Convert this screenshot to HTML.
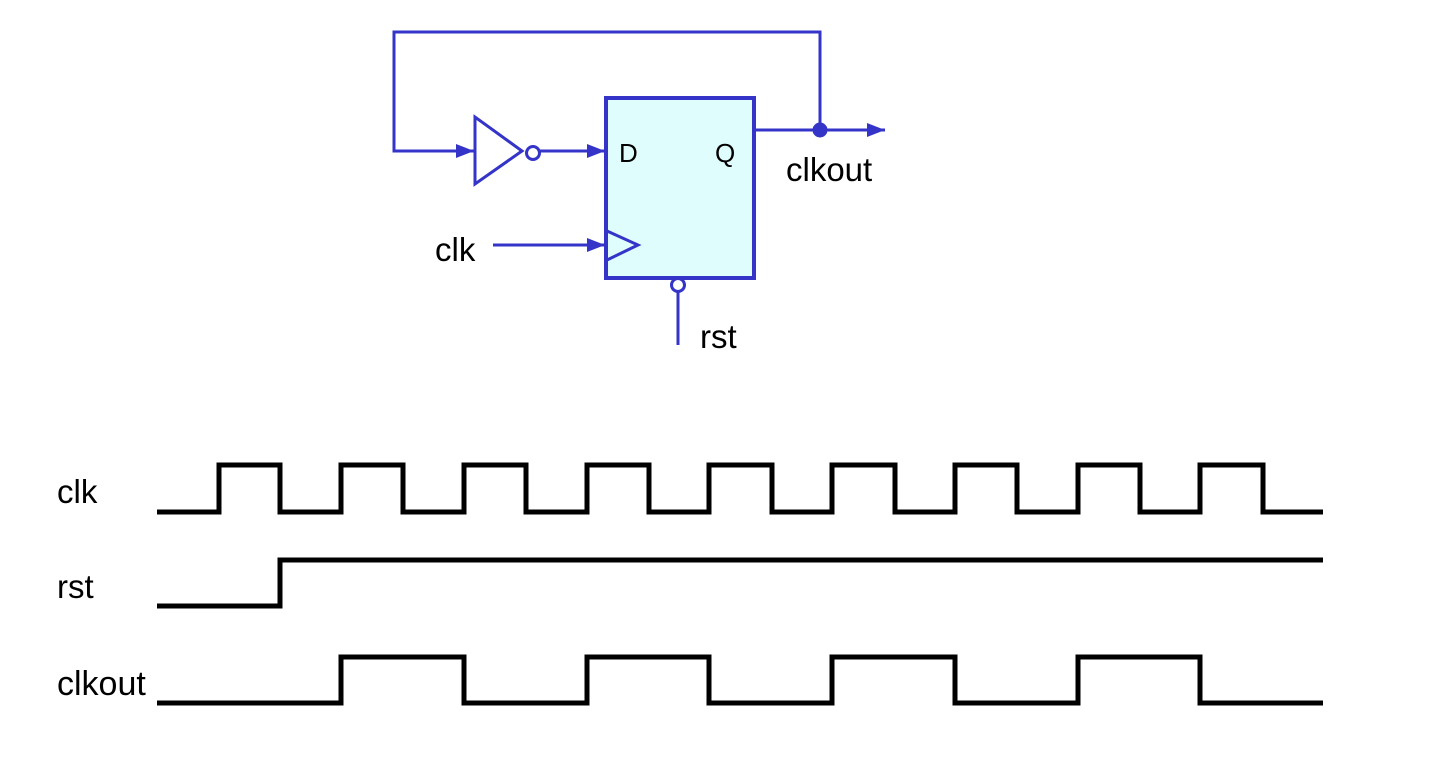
<!DOCTYPE html>
<html><head><style>body{margin:0;background:#fff}svg{display:block}</style></head><body>
<svg width="1440" height="764" viewBox="0 0 1440 764" xmlns="http://www.w3.org/2000/svg" font-family="Liberation Sans, sans-serif">
<defs>
<marker id="b" viewBox="0 0 18 14" markerWidth="18" markerHeight="14" refX="18" refY="7" orient="auto" markerUnits="userSpaceOnUse"><path d="M0,0 L18,7 L0,14z" fill="#3434c8"/></marker></defs>
<g stroke="#3434c8" stroke-width="3" fill="none">
<rect x="606" y="98" width="148" height="180" fill="#e0fdfd" stroke-width="4"/>
<polyline points="820,130 820,32 394,32 394,151 474,151" marker-end="url(#b)"/>
<polygon points="475,117 475,184 522,151"/>
<circle cx="533" cy="153" r="6.5"/>
<line x1="540" y1="151" x2="605" y2="151" marker-end="url(#b)"/>
<line x1="754" y1="130" x2="885" y2="130" marker-end="url(#b)"/>
<line x1="493" y1="245" x2="605" y2="245" marker-end="url(#b)"/>
<polyline points="607,231 638,245 607,260"/>
<circle cx="678" cy="285" r="6.5"/>
<line x1="678" y1="292" x2="678" y2="345"/>
</g>
<circle cx="820" cy="130" r="7.5" fill="#3434c8"/>
<g font-size="26" fill="#000"><text x="619" y="162">D</text><text x="715" y="162">Q</text></g>
<g font-size="33" fill="#000"><text x="786" y="181">clkout</text><text x="435" y="261">clk</text><text x="700" y="348">rst</text>
<text x="57" y="503">clk</text><text x="57" y="598">rst</text><text x="57" y="695" font-size="34">clkout</text></g>
<g stroke="#000" stroke-width="5" fill="none">
<polyline points="157,512 219,512 219,465 280,465 280,512 341,512 341,465 403,465 403,512 464,512 464,465 526,465 526,512 587,512 587,465 649,465 649,512 709,512 709,465 772,465 772,512 832,512 832,465 895,465 895,512 955,512 955,465 1017,465 1017,512 1078,512 1078,465 1140,465 1140,512 1200,512 1200,465 1263,465 1263,512 1323,512"/>
<polyline points="157,606 280,606 280,560 1323,560"/>
<polyline points="157,703 341,703 341,657 464,657 464,703 587,703 587,657 709,657 709,703 832,703 832,657 955,657 955,703 1078,703 1078,657 1200,657 1200,703 1323,703"/>
</g>
</svg>
</body></html>
